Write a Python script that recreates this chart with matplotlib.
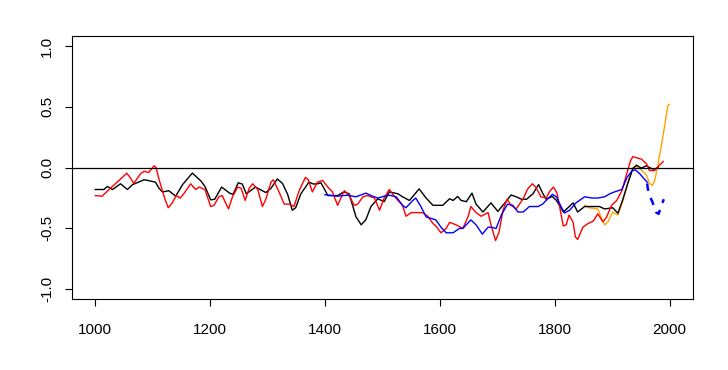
import numpy             as np
import matplotlib.pyplot as plt

plt.rcParams['font.family'] = ['Liberation Sans', 'DejaVu Sans']

# black reconstruction
black_yr  = [1000, 1015, 1021, 1030, 1044, 1056, 1065, 1085, 1091, 1105, 1111, 1117, 1128, 1140,
             1152, 1169, 1184, 1191, 1201, 1208, 1220, 1234, 1240, 1249, 1256, 1263, 1279, 1297,
             1306, 1317, 1326, 1335, 1343, 1349, 1358, 1372, 1380, 1387, 1393, 1405, 1422, 1433,
             1442, 1454, 1463, 1471, 1480, 1492, 1503, 1512, 1527, 1535, 1547, 1564, 1576, 1588,
             1605, 1617, 1623, 1631, 1637, 1646, 1656, 1663, 1675, 1689, 1701, 1715, 1724, 1733,
             1742, 1751, 1762, 1772, 1779, 1785, 1796, 1803, 1808, 1815, 1823, 1832, 1840, 1852,
             1865, 1878, 1887, 1901, 1910, 1918, 1928, 1936, 1942, 1951, 1960, 1965, 1971, 1975, 1980]
black_val = [-0.18, -0.18, -0.155, -0.18, -0.133, -0.18, -0.14, -0.10, -0.105, -0.12, -0.17, -0.20,
             -0.19, -0.235, -0.14, -0.045, -0.11, -0.155, -0.265, -0.26, -0.16, -0.21, -0.22, -0.125,
             -0.135, -0.215, -0.16, -0.205, -0.17, -0.093, -0.13, -0.22, -0.35, -0.33, -0.215, -0.12,
             -0.135, -0.133, -0.125, -0.23, -0.23, -0.20, -0.215, -0.405, -0.47, -0.43, -0.32, -0.256,
             -0.28, -0.20, -0.215, -0.24, -0.27, -0.175, -0.25, -0.31, -0.31, -0.256, -0.27, -0.237,
             -0.27, -0.28, -0.21, -0.30, -0.365, -0.29, -0.36, -0.28, -0.225, -0.24, -0.26, -0.26,
             -0.215, -0.14, -0.21, -0.26, -0.237, -0.27, -0.31, -0.365, -0.33, -0.29, -0.365, -0.32,
             -0.32, -0.32, -0.34, -0.33, -0.375, -0.27, -0.12, -0.01, 0.02, -0.004, 0.016, 0.0,
             -0.012, -0.01, 0.0]

# red reconstruction
red_yr  = [1000, 1012, 1024, 1038, 1055, 1062, 1067, 1079, 1085, 1093, 1100, 1102, 1106, 1110,
           1120, 1127, 1134, 1141, 1148, 1155, 1166, 1175, 1181, 1191, 1201, 1207, 1215, 1221,
           1232, 1239, 1248, 1254, 1261, 1268, 1274, 1283, 1291, 1297, 1306, 1310, 1320, 1329,
           1338, 1346, 1355, 1366, 1371, 1378, 1387, 1396, 1405, 1413, 1422, 1431, 1434, 1442,
           1451, 1457, 1466, 1474, 1486, 1495, 1503, 1512, 1518, 1527, 1535, 1541, 1550, 1558,
           1570, 1579, 1588, 1593, 1602, 1611, 1617, 1628, 1640, 1649, 1654, 1663, 1672, 1684,
           1689, 1697, 1703, 1710, 1717, 1724, 1733, 1745, 1753, 1761, 1767, 1776, 1785, 1792,
           1798, 1804, 1808, 1815, 1820, 1825, 1832, 1836, 1840, 1849, 1858, 1867, 1875, 1884,
           1890, 1899, 1908, 1917, 1926, 1932, 1936, 1951, 1960, 1965, 1974, 1980, 1989]
red_val = [-0.23, -0.235, -0.18, -0.12, -0.046, -0.09, -0.13, -0.05, -0.03, -0.04, 0.0, 0.015,
           0.0, -0.08, -0.24, -0.33, -0.29, -0.23, -0.25, -0.21, -0.133, -0.18, -0.16, -0.18,
           -0.32, -0.31, -0.24, -0.23, -0.34, -0.24, -0.16, -0.17, -0.27, -0.17, -0.133, -0.18,
           -0.32, -0.26, -0.12, -0.10, -0.20, -0.30, -0.30, -0.32, -0.19, -0.08, -0.10, -0.20,
           -0.12, -0.105, -0.16, -0.20, -0.31, -0.215, -0.19, -0.23, -0.31, -0.30, -0.24, -0.23,
           -0.25, -0.35, -0.25, -0.18, -0.22, -0.27, -0.31, -0.40, -0.37, -0.37, -0.37, -0.40,
           -0.46, -0.48, -0.536, -0.50, -0.45, -0.47, -0.50, -0.405, -0.32, -0.37, -0.40, -0.37,
           -0.47, -0.60, -0.53, -0.35, -0.26, -0.31, -0.34, -0.256, -0.175, -0.133, -0.16, -0.24,
           -0.25, -0.19, -0.16, -0.21, -0.31, -0.48, -0.47, -0.39, -0.45, -0.57, -0.59, -0.49,
           -0.46, -0.44, -0.38, -0.445, -0.41, -0.31, -0.27, -0.19, -0.04, 0.057, 0.09, 0.07,
           0.03, -0.024, -0.024, 0.008, 0.05]

# blue reconstruction (solid part)
blue_yr  = [1400, 1422, 1439, 1454, 1471, 1483, 1492, 1503, 1512, 1524, 1535, 1541, 1553, 1558,
            1567, 1576, 1593, 1602, 1611, 1623, 1634, 1640, 1654, 1663, 1674, 1684, 1689, 1698,
            1707, 1718, 1727, 1736, 1745, 1756, 1771, 1779, 1788, 1796, 1803, 1811, 1817, 1826,
            1837, 1852, 1865, 1875, 1887, 1896, 1904, 1917, 1926, 1935, 1941, 1948, 1956, 1961]
blue_val = [-0.223, -0.235, -0.227, -0.24, -0.21, -0.235, -0.25, -0.235, -0.227, -0.24, -0.31,
            -0.33, -0.27, -0.25, -0.32, -0.405, -0.43, -0.49, -0.536, -0.536, -0.50, -0.50, -0.43,
            -0.47, -0.547, -0.49, -0.49, -0.50, -0.39, -0.30, -0.31, -0.365, -0.365, -0.32, -0.32,
            -0.30, -0.256, -0.22, -0.24, -0.32, -0.373, -0.35, -0.29, -0.24, -0.25, -0.25, -0.24,
            -0.215, -0.20, -0.18, -0.08, -0.024, -0.02, -0.05, -0.093, -0.12]

# blue, dashed tail
bluetail_yr  = [1961, 1962, 1965, 1970, 1974, 1977, 1981, 1985, 1990]
bluetail_val = [-0.13, -0.17, -0.23, -0.28, -0.34, -0.37, -0.38, -0.32, -0.26]

# orange instrumental
orange_yr  = [1852, 1860, 1875, 1884, 1887, 1893, 1901, 1910, 1919, 1928, 1936, 1942, 1951,
              1960, 1965, 1970, 1974, 1980, 1986, 1992, 1997, 2000]
orange_val = [-0.31, -0.33, -0.34, -0.445, -0.47, -0.445, -0.365, -0.39, -0.27, -0.11, 0.0,
              0.01, -0.02, -0.065, -0.13, -0.147, -0.11, 0.03, 0.19, 0.36, 0.51, 0.52]

fig = plt.figure(figsize=(7.28, 3.70), dpi=100)
ax  = fig.add_axes([0.0993, 0.192, 0.852, 0.710])

ax.plot(orange_yr, orange_val, color='orange', lw=1.0)
ax.plot(black_yr, black_val, color='black', lw=1.0)
ax.plot(red_yr, red_val, color='red', lw=1.0)
ax.plot(blue_yr, blue_val, color='blue', lw=1.0)
ax.plot(bluetail_yr, bluetail_val, color='blue', lw=1.8, dashes=(3, 3))
ax.axhline(0, color='black', lw=0.9)

ax.set_xlim(960, 2040)
ax.set_ylim(-1.08, 1.08)
ax.set_xticks(np.arange(1000, 2001, 200))
ax.set_yticks([-1.0, -0.5, 0.0, 0.5, 1.0])
ax.set_yticklabels(['-1.0', '-0.5', '0.0', '0.5', '1.0'], rotation=90, va='center')
ax.tick_params(direction='out', length=5.2, width=0.8, labelsize=11)
ax.tick_params(axis='x', pad=12)
ax.tick_params(axis='y', pad=8)
for s in ax.spines.values():
    s.set_linewidth(0.8)

plt.savefig("out.png", dpi=100)
